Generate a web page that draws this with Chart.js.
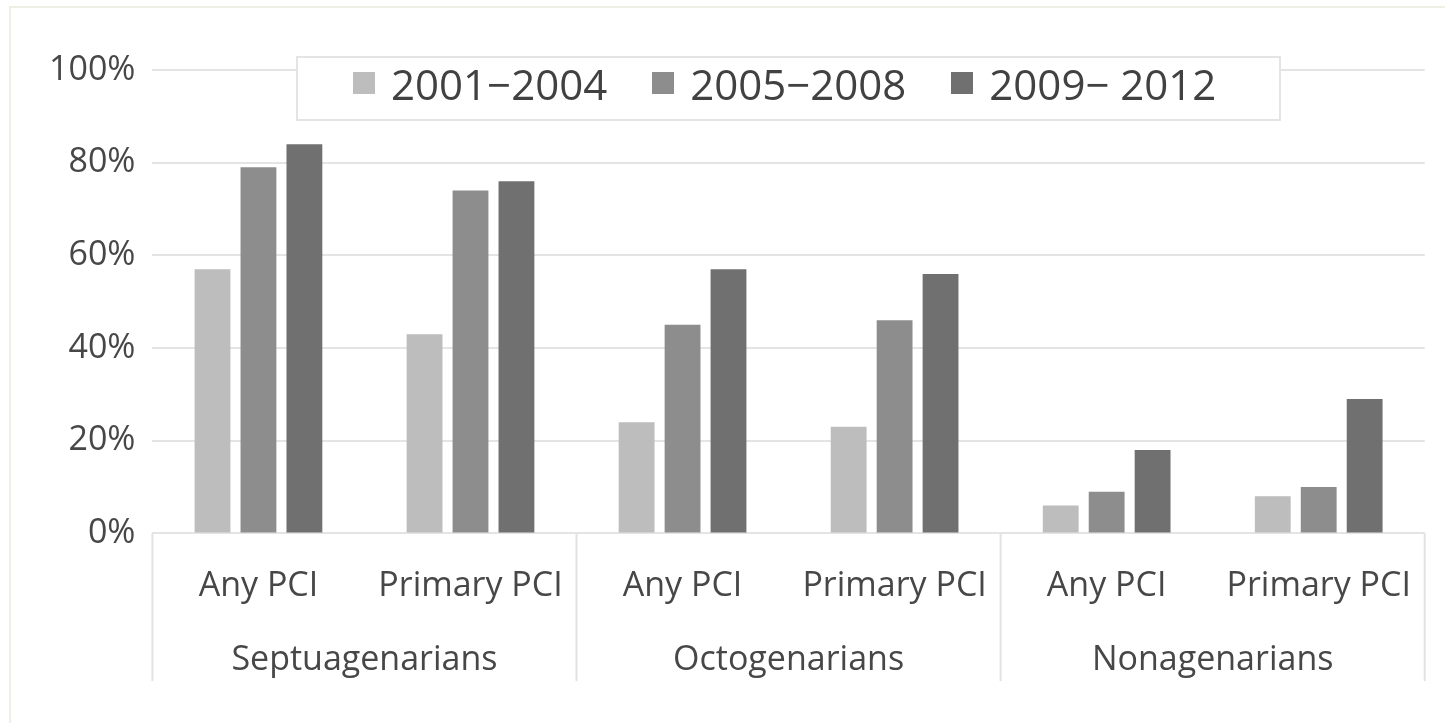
<!DOCTYPE html>
<html>
<head>
<meta charset="utf-8">
<title>PCI use by age group and period</title>
<script src="https://cdn.jsdelivr.net/npm/chart.js@4.4.1/dist/chart.umd.min.js"></script>
<style>
  html, body { margin: 0; padding: 0; background: #ffffff; }
  #wrap { position: relative; width: 1445px; height: 723px; overflow: hidden; background: #ffffff; }
  #frame { position: absolute; left: 9px; top: 6px; right: -10px; bottom: -10px;
           border-left: 2px solid #efefe3; border-top: 2px solid #efefe3; }
  #chart { position: absolute; left: 0; top: 0; }
  #legend { position: absolute; box-sizing: border-box; background: #ffffff;
            border: 2px solid #e4e4e4; display: flex; align-items: center;
            padding: 0 0 11px 55px; font-family: 'Open Sans', sans-serif;
            font-size: 42px; color: #414141; white-space: pre; }
  #legend .item { display: flex; align-items: center; margin-right: 45px; }
  #legend .item:last-child { margin-right: 0; }
  #legend .swatch { width: 22px; height: 22px; margin-right: 16px; }
</style>
</head>
<body>
<div id="wrap">
  <div id="frame"></div>
  <canvas id="chart" width="1445" height="723"></canvas>
  <div id="legend"></div>
</div>
<script>
// Sub-categories repeated under each age group
const procedures = ['Any PCI', 'Primary PCI'];
const ageGroups = ['Septuagenarians', 'Octogenarians', 'Nonagenarians'];
const categories = ageGroups.flatMap(() => procedures);

// Periods (series)
const periods = ['2001\u22122004', '2005\u22122008', '2009\u2212 2012'];

// Share of patients (%) per category, in the order of `categories`
const values2001to2004 = [57, 43, 24, 23, 6, 8];
const values2005to2008 = [79, 74, 45, 46, 9, 10];
const values2009to2012 = [84, 76, 57, 56, 18, 29];

// Y axis
const yMin = 0;
const yMax = 100;
const yStep = 20;

const seriesColors = ['#bdbdbd', '#8d8d8d', '#707070'];
const textColor = '#474747';
const gridColor = '#e4e4e4';

Chart.defaults.font.family = "'Open Sans', sans-serif";
Chart.defaults.color = textColor;

// HTML legend drawn over the top of the plot, with a white box and light border
const htmlLegend = {
  id: 'htmlLegend',
  afterUpdate(chart) {
    const box = document.getElementById('legend');
    box.innerHTML = '';
    const items = chart.options.plugins.legend.labels.generateLabels(chart);
    items.forEach(item => {
      const el = document.createElement('div');
      el.className = 'item';
      const sw = document.createElement('span');
      sw.className = 'swatch';
      sw.style.background = item.fillStyle;
      const tx = document.createElement('span');
      tx.textContent = item.text;
      el.appendChild(sw);
      el.appendChild(tx);
      box.appendChild(el);
    });
    const area = chart.chartArea;
    const w = 985;
    const cx = (area.left + area.right) / 2;
    box.style.left = (cx - w / 2) + 'px';
    box.style.width = w + 'px';
    box.style.top = (area.top - 14) + 'px';
    box.style.height = '65px';
  }
};

// Vertical separators between the age groups, spanning both label rows
const groupSeparators = {
  id: 'groupSeparators',
  afterDraw(chart) {
    const x = chart.scales.x;
    const x2 = chart.scales.x2;
    const per = procedures.length;
    const ctx = chart.ctx;
    ctx.save();
    ctx.strokeStyle = '#e2e2e2';
    ctx.lineWidth = 2;
    for (let g = 0; g <= ageGroups.length; g++) {
      let px;
      if (g === 0) px = x.left;
      else if (g === ageGroups.length) px = x.right;
      else px = (x.getPixelForValue(g * per - 1) + x.getPixelForValue(g * per)) / 2;
      ctx.beginPath();
      ctx.moveTo(px, x.top);
      ctx.lineTo(px, x2.bottom);
      ctx.stroke();
    }
    ctx.restore();
  }
};

const datasets = [values2001to2004, values2005to2008, values2009to2012].map((vals, i) => ({
  label: periods[i],
  data: vals,
  backgroundColor: seriesColors[i],
  borderWidth: 0,
  categoryPercentage: 0.65,
  barPercentage: 0.78
}));

new Chart(document.getElementById('chart'), {
  type: 'bar',
  data: { labels: categories, datasets },
  plugins: [htmlLegend, groupSeparators],
  options: {
    responsive: false,
    animation: false,
    layout: { padding: { left: 32, right: 13, top: 70, bottom: 42 } },
    plugins: {
      legend: { display: false },
      tooltip: { enabled: false }
    },
    scales: {
      y: {
        min: yMin,
        max: yMax,
        ticks: {
          stepSize: yStep,
          padding: 17,
          color: textColor,
          font: { size: 34 },
          callback: v => v + '%'
        },
        grid: { color: gridColor, lineWidth: 2, drawTicks: false },
        border: { display: false }
      },
      x: {
        type: 'category',
        labels: categories,
        offset: true,
        ticks: { padding: 33, color: textColor, font: { size: 34 }, maxRotation: 0, autoSkip: false },
        grid: { display: false, drawTicks: false },
        border: { display: false }
      },
      x2: {
        type: 'category',
        position: 'bottom',
        labels: ageGroups,
        offset: true,
        ticks: { padding: 0, color: textColor, font: { size: 34 }, maxRotation: 0, autoSkip: false },
        grid: { display: false, drawTicks: false },
        border: { display: false }
      }
    }
  }
});
</script>
</body>
</html>
